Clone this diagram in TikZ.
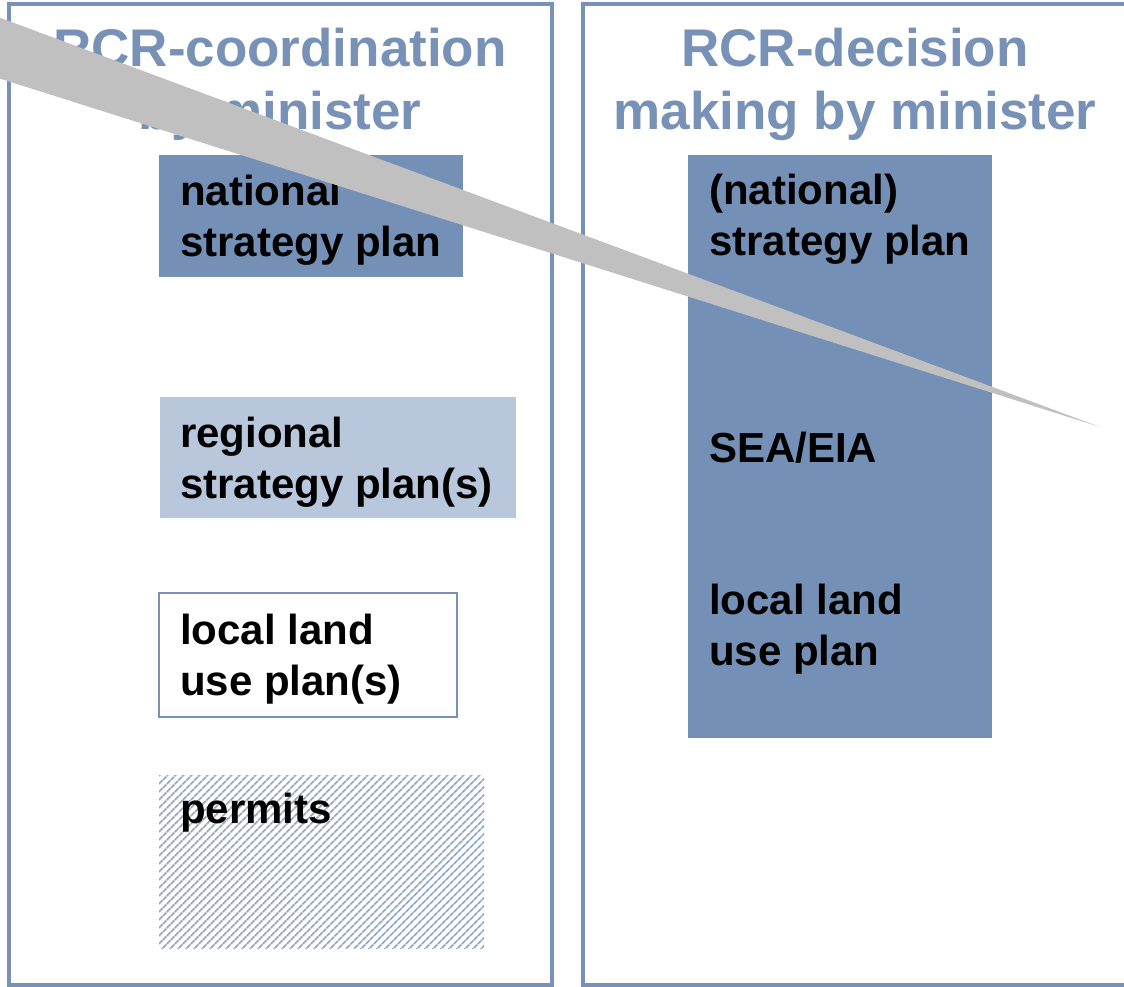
\documentclass[tikz,border=0pt]{standalone}
\usepackage{fontspec}
\setmainfont{Liberation Sans}
\usetikzlibrary{patterns.meta}
\definecolor{frameblue}{RGB}{120,145,183}
\definecolor{darkfill}{RGB}{117,144,182}
\definecolor{lightfill}{RGB}{185,199,220}
\definecolor{hatchblue}{RGB}{150,170,203}
\definecolor{wedgegrey}{RGB}{192,192,192}
\tikzset{
  panel/.style={draw=frameblue, line width=4pt},
  title/.style={text=frameblue, font=\fontsize{53}{63}\selectfont\bfseries, align=center, inner sep=0pt},
  boxtxt/.style={text=black, font=\fontsize{42}{50.5}\selectfont\bfseries, align=left, inner sep=0pt},
  darkbox/.style={fill=darkfill},
  lightbox/.style={fill=lightfill},
  whitebox/.style={fill=white, draw=frameblue, line width=1.5pt},
  hatchbox/.style={pattern={Lines[angle=45,distance=5.4pt,line width=1.8pt]}, pattern color=hatchblue},
  wedge/.style={fill=wedgegrey}
}
\begin{document}
\begin{tikzpicture}[x=1pt,y=-1pt]
\useasboundingbox (0,0) rectangle (1124,987);
\clip (0,0) rectangle (1124,987);
% panels
\draw[panel] (9,4) rectangle (552,985);
\draw[panel] (583,4) rectangle (1160,985);
% titles (anchor = baseline of last line)
\node[title, anchor=base] (tl) at (280,130) {RCR-coordination\\by minister};
\node[title, anchor=base] (tr) at (855,130) {RCR-decision\\making by minister};
% left boxes
\fill[darkbox] (159,155) rectangle (463,277);
\node[boxtxt, anchor=base west] (natT) at (180,256) {national\\strategy plan};
\fill[lightbox] (160,397) rectangle (516,518);
\node[boxtxt, anchor=base west] (regT) at (180,498) {regional\\strategy plan(s)};
\draw[whitebox] (159,593) rectangle (457,717);
\node[boxtxt, anchor=base west] (locT) at (180,695) {local land\\use plan(s)};
\fill[hatchbox] (159,775) rectangle (484,948);
\node[boxtxt, anchor=base west] (perT) at (180,823) {permits};
% right box
\fill[darkbox] (688,155) rectangle (992,738);
\node[boxtxt, anchor=base west] (rnatT) at (709,255) {(national)\\strategy plan};
\node[boxtxt, anchor=base west] (seaT) at (709,462) {SEA/EIA};
\node[boxtxt, anchor=base west] (rlocT) at (709,665) {local land\\use plan};
% grey wedge
\fill[wedge] (-2,17) -- (1100,427) -- (-2,78) -- cycle;
\end{tikzpicture}
\end{document}
